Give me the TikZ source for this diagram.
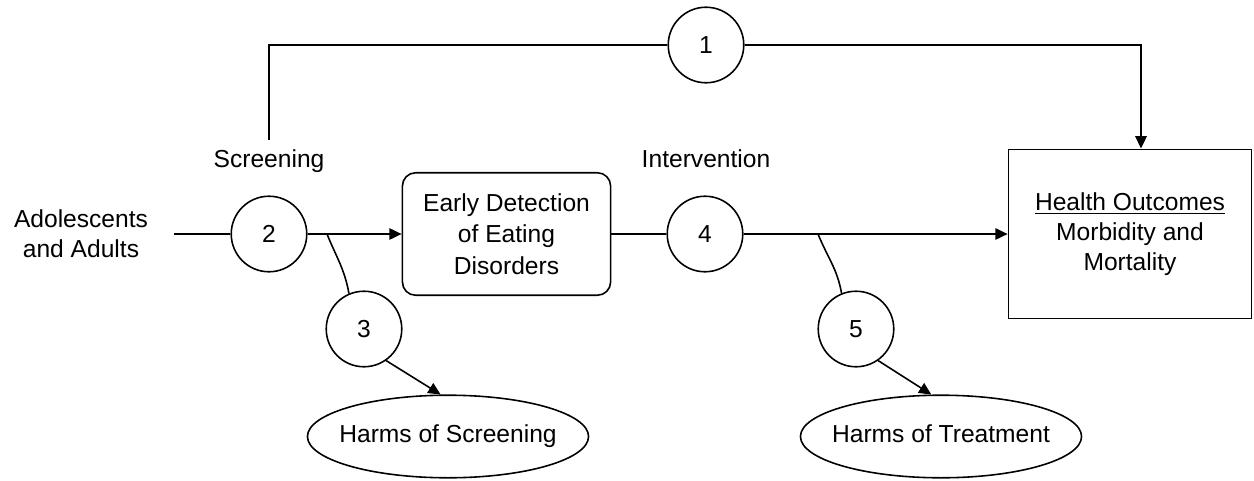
\documentclass[tikz,border=0pt]{standalone}
\usepackage{fontspec}
\setmainfont{Liberation Sans}
\usetikzlibrary{arrows.meta,shapes.geometric,calc}
\begin{document}
\begin{tikzpicture}[x=0.02cm,y=-0.02cm,
  every node/.style={font=\fontsize{14}{17}\selectfont},
  conn/.style={line width=0.9pt},
  arr/.style={conn,-{Triangle[length=7pt,width=6.5pt]}},
  num/.style={draw,circle,line width=0.9pt,minimum size=43pt,inner sep=0pt},
  rbox/.style={draw,rounded corners=7.5pt,line width=0.9pt,minimum width=118.5pt,minimum height=69.7pt,align=center,inner sep=0pt},
  sbox/.style={draw,line width=0.9pt,minimum width=138.4pt,minimum height=96.4pt,align=center,inner sep=0pt},
  oval/.style={draw,ellipse,line width=0.9pt,minimum width=160pt,minimum height=47pt,inner sep=0pt,text height=10pt,text depth=3pt},
  lbl/.style={align=center,inner sep=0pt}]
\useasboundingbox (0,0) rectangle (1254,480);

\node[lbl] (pop) at (81,234) {Adolescents\\and Adults};
\node[lbl,anchor=base] (scr) at (269,167) {Screening};
\node[lbl,anchor=base] (int) at (706,167) {Intervention};

\node[num] (c1) at (706,45) {1};
\node[num] (c2) at (269,234) {2};
\node[num] (c3) at (364,329) {3};
\node[num] (c4) at (705,234) {4};
\node[num] (c5) at (856,329) {5};

\node[rbox,font=\fontsize{14}{18}\selectfont] (early) at (506.5,234) {Early Detection\\of Eating\\Disorders};
\node[sbox] (health) at (1130,234) {\underline{Health Outcomes}\\Morbidity and\\Mortality};

\node[oval] (h1) at (448,436.5) {\makebox[0pt]{Harms of Screening}};
\node[oval] (h2) at (941,436.5) {\makebox[0pt]{Harms of Treatment}};

\coordinate (start) at (174,234);
\coordinate (s1) at (269,140);
\coordinate (b1) at (327,234);
\coordinate (b2) at (818,234);
\coordinate (htop) at ($(health.north)+(11,0)$);

\draw[conn] (start) -- (c2);
\draw[arr] (c2) -- (early);
\draw[conn] (early) -- (c4);
\draw[arr] (c4) -- (health);
\draw[conn] (s1) |- (c1);
\draw[arr] (c1) -| (htop);
\draw[conn] (b1) to[out=-68,in=100] (c3.113);
\draw[conn] (b2) to[out=-68,in=100] (c5.112);
\draw[arr] (c3.-55) -- (h1.100);
\draw[arr] (c5.-55) -- (h2.103);
\end{tikzpicture}
\end{document}
